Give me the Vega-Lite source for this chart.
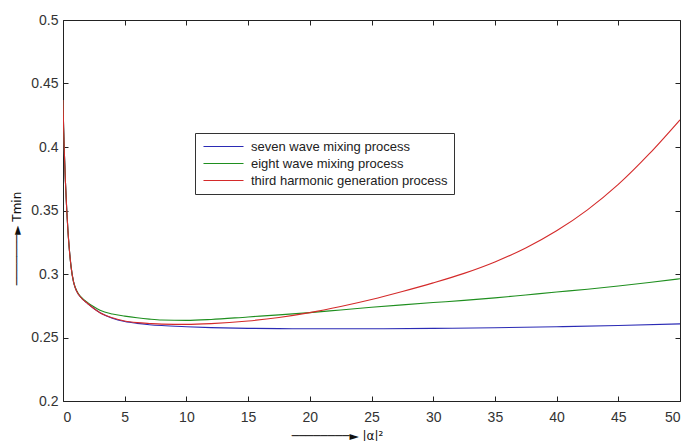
{
  "$schema": "https://vega.github.io/schema/vega-lite/v6.json",
  "autosize": {"type": "none"},
  "padding": {"left": 63, "top": 20, "right": 1, "bottom": 40},
  "width": 617,
  "height": 381,
  "background": "white",
  "config": {
    "view": {"stroke": "#222", "strokeWidth": 1},
    "font": "Liberation Sans",
    "axis": {"grid": false, "domain": false, "tickSize": -5, "tickColor": "#222", "labelFont": "Liberation Sans", "labelFontSize": 14, "labelColor": "#333", "titleFont": "DejaVu Sans", "titleFontWeight": "normal", "titleColor": "#111"},
    "legend": {"labelFont": "Liberation Sans", "labelFontSize": 13, "labelColor": "#222"}
  },
  "data": {"values": [
    {"s":"seven wave mixing process","x":0,"t":0.437},
    {"s":"seven wave mixing process","x":0.05,"t":0.415},
    {"s":"seven wave mixing process","x":0.1,"t":0.398},
    {"s":"seven wave mixing process","x":0.2,"t":0.372},
    {"s":"seven wave mixing process","x":0.3,"t":0.351},
    {"s":"seven wave mixing process","x":0.4,"t":0.334},
    {"s":"seven wave mixing process","x":0.5,"t":0.321},
    {"s":"seven wave mixing process","x":0.65,"t":0.306},
    {"s":"seven wave mixing process","x":0.85,"t":0.294},
    {"s":"seven wave mixing process","x":1.0,"t":0.289},
    {"s":"seven wave mixing process","x":1.25,"t":0.284},
    {"s":"seven wave mixing process","x":1.5,"t":0.281},
    {"s":"seven wave mixing process","x":2,"t":0.2768},
    {"s":"seven wave mixing process","x":2.5,"t":0.2728},
    {"s":"seven wave mixing process","x":3,"t":0.2695},
    {"s":"seven wave mixing process","x":4,"t":0.2652},
    {"s":"seven wave mixing process","x":5,"t":0.2626},
    {"s":"seven wave mixing process","x":6,"t":0.2611},
    {"s":"seven wave mixing process","x":7,"t":0.2601},
    {"s":"seven wave mixing process","x":8,"t":0.2594},
    {"s":"seven wave mixing process","x":10,"t":0.2585},
    {"s":"seven wave mixing process","x":12,"t":0.2578},
    {"s":"seven wave mixing process","x":15,"t":0.2572},
    {"s":"seven wave mixing process","x":17.5,"t":0.257},
    {"s":"seven wave mixing process","x":20,"t":0.2569},
    {"s":"seven wave mixing process","x":25,"t":0.2569},
    {"s":"seven wave mixing process","x":30,"t":0.2572},
    {"s":"seven wave mixing process","x":35,"t":0.2577},
    {"s":"seven wave mixing process","x":40,"t":0.2585},
    {"s":"seven wave mixing process","x":45,"t":0.2595},
    {"s":"seven wave mixing process","x":50,"t":0.2607},
    {"s":"eight wave mixing process","x":0,"t":0.437},
    {"s":"eight wave mixing process","x":0.05,"t":0.415},
    {"s":"eight wave mixing process","x":0.1,"t":0.398},
    {"s":"eight wave mixing process","x":0.2,"t":0.372},
    {"s":"eight wave mixing process","x":0.3,"t":0.351},
    {"s":"eight wave mixing process","x":0.4,"t":0.334},
    {"s":"eight wave mixing process","x":0.5,"t":0.321},
    {"s":"eight wave mixing process","x":0.65,"t":0.306},
    {"s":"eight wave mixing process","x":0.85,"t":0.294},
    {"s":"eight wave mixing process","x":1.0,"t":0.2892},
    {"s":"eight wave mixing process","x":1.25,"t":0.2845},
    {"s":"eight wave mixing process","x":1.5,"t":0.2815},
    {"s":"eight wave mixing process","x":2,"t":0.2775},
    {"s":"eight wave mixing process","x":2.5,"t":0.2742},
    {"s":"eight wave mixing process","x":3,"t":0.2715},
    {"s":"eight wave mixing process","x":4,"t":0.2685},
    {"s":"eight wave mixing process","x":5,"t":0.2668},
    {"s":"eight wave mixing process","x":6,"t":0.2655},
    {"s":"eight wave mixing process","x":7,"t":0.2645},
    {"s":"eight wave mixing process","x":8,"t":0.2638},
    {"s":"eight wave mixing process","x":10,"t":0.2635},
    {"s":"eight wave mixing process","x":12,"t":0.2642},
    {"s":"eight wave mixing process","x":15,"t":0.2662},
    {"s":"eight wave mixing process","x":17.5,"t":0.2678},
    {"s":"eight wave mixing process","x":20,"t":0.2696},
    {"s":"eight wave mixing process","x":22.5,"t":0.2717},
    {"s":"eight wave mixing process","x":25,"t":0.2738},
    {"s":"eight wave mixing process","x":27.5,"t":0.2757},
    {"s":"eight wave mixing process","x":30,"t":0.2775},
    {"s":"eight wave mixing process","x":32.5,"t":0.2792},
    {"s":"eight wave mixing process","x":35,"t":0.2812},
    {"s":"eight wave mixing process","x":37.5,"t":0.2835},
    {"s":"eight wave mixing process","x":40,"t":0.2858},
    {"s":"eight wave mixing process","x":42.5,"t":0.288},
    {"s":"eight wave mixing process","x":45,"t":0.2905},
    {"s":"eight wave mixing process","x":47.5,"t":0.2933},
    {"s":"eight wave mixing process","x":50,"t":0.2963},
    {"s":"third harmonic generation process","x":0,"t":0.437},
    {"s":"third harmonic generation process","x":0.05,"t":0.415},
    {"s":"third harmonic generation process","x":0.1,"t":0.398},
    {"s":"third harmonic generation process","x":0.2,"t":0.372},
    {"s":"third harmonic generation process","x":0.3,"t":0.351},
    {"s":"third harmonic generation process","x":0.4,"t":0.334},
    {"s":"third harmonic generation process","x":0.5,"t":0.321},
    {"s":"third harmonic generation process","x":0.65,"t":0.306},
    {"s":"third harmonic generation process","x":0.85,"t":0.294},
    {"s":"third harmonic generation process","x":1.0,"t":0.289},
    {"s":"third harmonic generation process","x":1.25,"t":0.284},
    {"s":"third harmonic generation process","x":1.5,"t":0.281},
    {"s":"third harmonic generation process","x":2,"t":0.2768},
    {"s":"third harmonic generation process","x":2.5,"t":0.2728},
    {"s":"third harmonic generation process","x":3,"t":0.2695},
    {"s":"third harmonic generation process","x":4,"t":0.2655},
    {"s":"third harmonic generation process","x":5,"t":0.263},
    {"s":"third harmonic generation process","x":6,"t":0.2617},
    {"s":"third harmonic generation process","x":7,"t":0.261},
    {"s":"third harmonic generation process","x":8,"t":0.2605},
    {"s":"third harmonic generation process","x":10,"t":0.2603},
    {"s":"third harmonic generation process","x":12,"t":0.2609},
    {"s":"third harmonic generation process","x":15,"t":0.263},
    {"s":"third harmonic generation process","x":17.5,"t":0.2658},
    {"s":"third harmonic generation process","x":20,"t":0.2696},
    {"s":"third harmonic generation process","x":22.5,"t":0.2744},
    {"s":"third harmonic generation process","x":25,"t":0.2799},
    {"s":"third harmonic generation process","x":27.5,"t":0.2862},
    {"s":"third harmonic generation process","x":30,"t":0.293},
    {"s":"third harmonic generation process","x":32.5,"t":0.3005},
    {"s":"third harmonic generation process","x":35,"t":0.3095},
    {"s":"third harmonic generation process","x":37.5,"t":0.3205},
    {"s":"third harmonic generation process","x":40,"t":0.334},
    {"s":"third harmonic generation process","x":42.5,"t":0.3505},
    {"s":"third harmonic generation process","x":45,"t":0.3705},
    {"s":"third harmonic generation process","x":47.5,"t":0.3945},
    {"s":"third harmonic generation process","x":50,"t":0.4214}
  ]},
  "layer": [
    {
      "mark": {"type": "line", "strokeWidth": 1.1, "interpolate": "monotone", "clip": true},
      "encoding": {
        "x": {"field": "x", "type": "quantitative", "scale": {"domain": [0, 50], "nice": false, "zero": false},
          "axis": {"values": [0,5,10,15,20,25,30,35,40,45,50], "labelPadding": 14, "title": "────────► |α|²", "titleFontSize": 12, "titleX": 274, "titleY": 34, "titleBaseline": "middle", "titleAnchor": "middle"}},
        "y": {"field": "t", "type": "quantitative", "scale": {"domain": [0.2, 0.5], "nice": false, "zero": false},
          "axis": {"values": [0.2,0.25,0.3,0.35,0.4,0.45,0.5], "format": "~g", "labelPadding": 10, "title": "───────► Tmin", "titleFontSize": 12, "titleX": -47, "titleY": 218, "titleAngle": -90, "titleBaseline": "middle", "titleAnchor": "middle"}},
        "color": {"field": "s", "type": "nominal",
          "scale": {"domain": ["seven wave mixing process","eight wave mixing process","third harmonic generation process"], "range": ["#2b2bb5", "#1f8f1f", "#d42a2a"]},
          "legend": {"title": null, "orient": "none", "legendX": 132, "legendY": 113, "strokeColor": "#333", "fillColor": "white", "padding": 6, "symbolType": "M-3,0L3,0", "symbolSize": 178, "symbolStrokeWidth": 1.2, "symbolOffset": 15, "rowPadding": 2, "labelOffset": 20, "labelLimit": 300}}
      }
    },
    {
      "mark": {"type": "line", "opacity": 0},
      "encoding": {
        "x": {"field": "x", "type": "quantitative", "axis": {"orient": "top", "values": [0,5,10,15,20,25,30,35,40,45,50], "labels": false, "title": null}},
        "y": {"field": "t", "type": "quantitative", "axis": {"orient": "right", "values": [0.2,0.25,0.3,0.35,0.4,0.45,0.5], "labels": false, "title": null}},
        "detail": {"field": "s"}
      }
    }
  ],
  "resolve": {"axis": {"x": "independent", "y": "independent"}}
}
